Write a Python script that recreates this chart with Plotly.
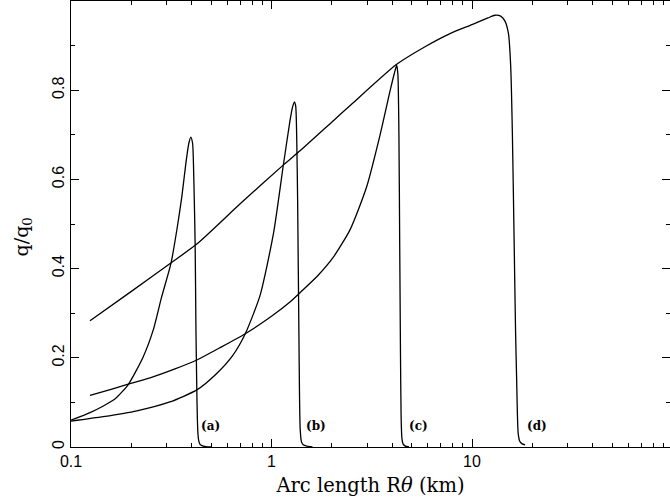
import math
import plotly.graph_objects as go

# curve (a)
xa = [0.100, 0.1244, 0.145, 0.166, 0.193, 0.229, 0.257, 0.283, 0.315, 0.337, 0.357, 0.374, 0.387,
      0.396, 0.404, 0.410, 0.416, 0.420, 0.424, 0.427, 0.430, 0.434, 0.440, 0.450, 0.47, 0.50]
ya = [0.060, 0.077, 0.092, 0.108, 0.140, 0.202, 0.262, 0.336, 0.411, 0.486, 0.561, 0.636, 0.681,
      0.695, 0.681, 0.598, 0.456, 0.262, 0.130, 0.060, 0.028, 0.013, 0.006, 0.003, 0.001, 0.0]
# curve (b)
xb = [0.100, 0.145, 0.213, 0.311, 0.424, 0.533, 0.64, 0.74, 0.877, 1.024, 1.144, 1.235, 1.27,
      1.30, 1.32, 1.335, 1.35, 1.36, 1.37, 1.38, 1.39, 1.41, 1.44, 1.50, 1.60]
yb = [0.058, 0.068, 0.081, 0.101, 0.128, 0.165, 0.205, 0.254, 0.340, 0.48, 0.630, 0.730, 0.760,
      0.774, 0.765, 0.700, 0.553, 0.400, 0.255, 0.110, 0.040, 0.012, 0.005, 0.002, 0.0]
# curve (c)
xc = [0.1244, 0.16, 0.193, 0.248, 0.33, 0.424, 0.55, 0.74, 1.0, 1.236, 1.387, 1.7, 2.03, 2.47,
      2.98, 3.48, 3.91, 4.10, 4.21, 4.27, 4.32, 4.36, 4.40, 4.43, 4.47, 4.53, 4.65, 4.85]
yc = [0.116, 0.130, 0.141, 0.155, 0.175, 0.195, 0.222, 0.254, 0.293, 0.325, 0.346, 0.384, 0.425, 0.488,
      0.583, 0.700, 0.800, 0.838, 0.856, 0.835, 0.700, 0.450, 0.200, 0.070, 0.020, 0.007, 0.002, 0.0]
# curve (d)
xd = [0.1244, 0.2, 0.311, 0.424, 0.7, 1.144, 1.387, 1.96, 2.5, 4.21, 5.8, 7.77, 10.0, 12.0, 13.0,
      13.9, 14.6, 15.2, 15.6, 15.9, 16.2, 16.5, 16.7, 16.85, 17.0, 17.3, 17.8, 18.4]
yd = [0.283, 0.349, 0.411, 0.455, 0.546, 0.632, 0.664, 0.725, 0.768, 0.858, 0.897, 0.927, 0.947, 0.962, 0.968,
      0.966, 0.955, 0.927, 0.852, 0.703, 0.479, 0.254, 0.150, 0.070, 0.030, 0.013, 0.007, 0.005]

labels = ["(a)", "(b)", "(c)", "(d)"]
label_x = [0.499, 1.667, 5.44, 21.0]
label_y = [0.046, 0.046, 0.046, 0.046]

x_tickvals = [0.1, 1, 10, 100]
x_ticktext = ["0.1", "1", "10", "100"]
x_minor = [m * d for d in (0.1, 1, 10) for m in range(2, 10)]
y_tickvals = [0, 0.2, 0.4, 0.6, 0.8, 1.0]
y_ticktext = ["0", "0.2", "0.4", "0.6", "0.8", ""]
y_minor = [0.1, 0.3, 0.5, 0.7, 0.9]

fig = go.Figure()
for xs, ys in [(xa, ya), (xb, yb), (xc, yc), (xd, yd)]:
    fig.add_trace(go.Scatter(x=xs, y=ys, mode="lines",
                             line=dict(color="black", width=1.3, shape="spline", smoothing=0.6),
                             showlegend=False, hoverinfo="skip"))
# invisible trace for the right-side tick axis
fig.add_trace(go.Scatter(x=[0.2], y=[0.5], yaxis="y2", mode="markers",
                         marker=dict(opacity=0), showlegend=False, hoverinfo="skip"))

for t, lx, ly in zip(labels, label_x, label_y):
    fig.add_annotation(x=math.log10(lx), y=ly, text="<b>" + t + "</b>", showarrow=False,
                       font=dict(family="DejaVu Serif", size=12, color="black"))

# y-axis title (as annotation to place it like the reference)
fig.add_annotation(xref="paper", yref="paper", x=-0.0818, y=0.47, text="q/q<sub>0</sub>",
                   textangle=-90, showarrow=False, xanchor="center", yanchor="middle",
                   font=dict(family="DejaVu Serif", size=19, color="black"))

tickfont = dict(family="Liberation Sans", size=16, color="black")
fig.update_layout(
    width=670, height=501,
    margin=dict(l=71, r=0, t=1, b=54, autoexpand=False),
    plot_bgcolor="white", paper_bgcolor="white",
    xaxis=dict(type="log", range=[-1, 1.9875], tickmode="array",
               tickvals=x_tickvals, ticktext=x_ticktext, automargin=False,
               ticks="inside", ticklen=8, tickwidth=1, tickcolor="black",
               showline=True, linecolor="black", linewidth=1, mirror="ticks",
               showgrid=False, zeroline=False, tickfont=tickfont,
               minor=dict(tickvals=x_minor, ticks="inside", ticklen=4,
                          tickwidth=1, tickcolor="black", showgrid=False),
               title=dict(text="Arc length R<i>θ</i> (km)",
                          font=dict(family="DejaVu Serif", size=19.5, color="black"),
                          standoff=9)),
    yaxis=dict(range=[0, 1.0], tickmode="array", tickvals=y_tickvals, ticktext=y_ticktext,
               automargin=False,
               ticks="inside", ticklen=8, tickwidth=1, tickcolor="black",
               showline=True, linecolor="black", linewidth=1, mirror=False,
               showgrid=False, zeroline=False, tickfont=tickfont, tickangle=-90,
               minor=dict(tickvals=y_minor, ticks="inside", ticklen=4,
                          tickwidth=1, tickcolor="black", showgrid=False)),
    yaxis2=dict(overlaying="y", side="right", range=[0, 1.0], tickmode="array",
                tickvals=y_tickvals, showticklabels=False, automargin=False,
                ticks="inside", ticklen=8, tickwidth=1, tickcolor="black",
                showline=False, showgrid=False, zeroline=False,
                minor=dict(tickvals=y_minor, ticks="inside", ticklen=4,
                           tickwidth=1, tickcolor="black", showgrid=False)),
)
fig.write_html("out.html", config={"displayModeBar": False},
               post_script="document.body.style.margin='0';document.body.style.overflow='hidden';")
